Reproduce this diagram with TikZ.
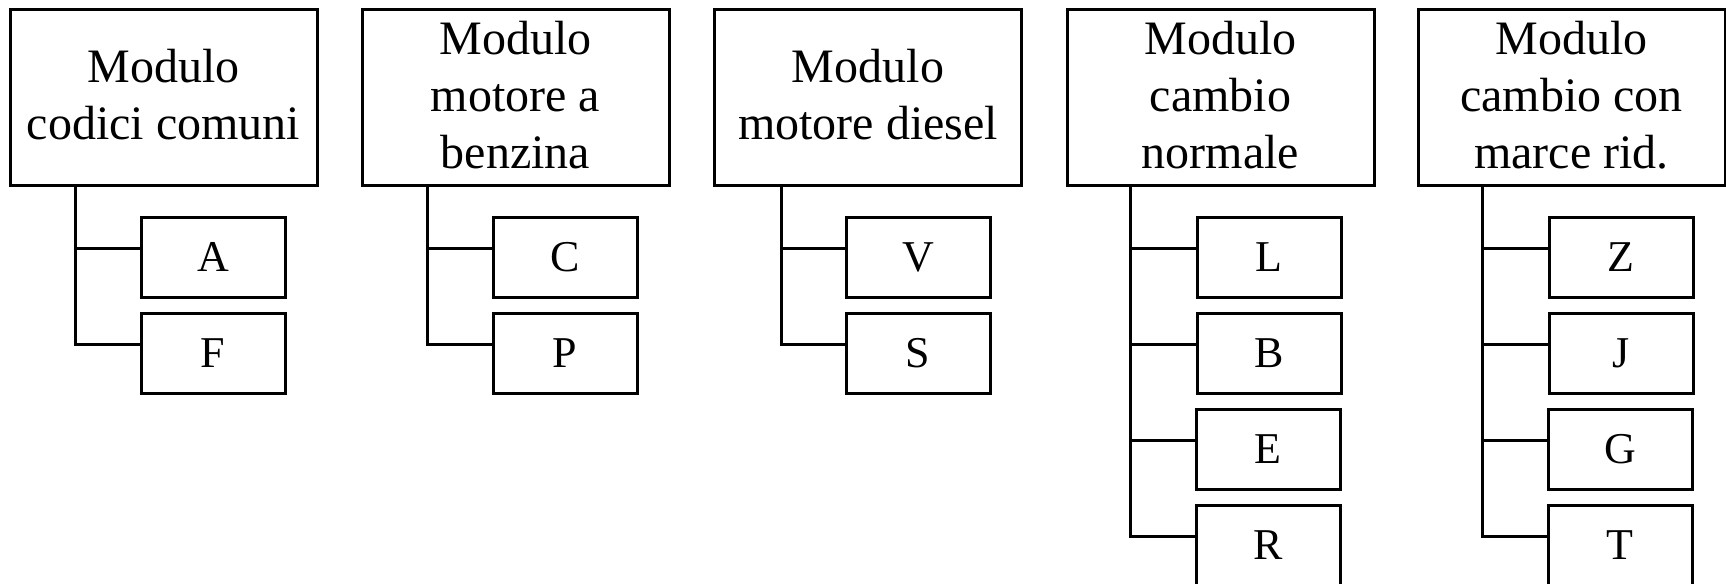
\documentclass[tikz,border=0pt]{standalone}
\usepackage{fontspec}
\setmainfont{Liberation Serif}
\usetikzlibrary{calc}
\begin{document}
\begin{tikzpicture}[x=0.5pt,y=-0.5pt,line width=1.5pt,
  modbox/.style={draw,rectangle,inner sep=0pt,minimum width=153.5pt,minimum height=88pt,align=center,text depth=2.4pt,font=\fontsize{24}{28.5}\selectfont},
  leaf/.style={draw,rectangle,inner sep=0pt,minimum width=72pt,minimum height=40pt,font=\fontsize{22}{26}\selectfont},
  conn/.style={line width=1.5pt}]
\useasboundingbox (0,0) rectangle (1726,584);
% module boxes
\node[modbox] (M1) at (163.5,97) {Modulo\\codici comuni};
\node[modbox] (M2) at (515.5,97) {Modulo\\motore a\\benzina};
\node[modbox] (M3) at (868,97) {Modulo\\motore diesel};
\node[modbox] (M4) at (1220.5,97) {Modulo\\cambio\\normale};
\node[modbox] (M5) at (1571.5,97) {Modulo\\cambio con\\marce rid.};
% leaves
\node[leaf] (A) at (213,257) {A};
\node[leaf] (F) at (213,353) {F};
\node[leaf] (C) at (565,257) {C};
\node[leaf] (P) at (565,353) {P};
\node[leaf] (V) at (918,257) {V};
\node[leaf] (S) at (918,353) {S};
\node[leaf] (L) at (1269,257) {L};
\node[leaf] (B) at (1269,353) {B};
\node[leaf] (E) at (1268,449) {E};
\node[leaf] (R) at (1268,545) {R};
\node[leaf] (Z) at (1621,257) {Z};
\node[leaf] (J) at (1621,353) {J};
\node[leaf] (G) at (1620,449) {G};
\node[leaf] (T) at (1620,545) {T};
% connector points on leaves
\foreach \k in {A,F,C,P,V,S,L,B,E,R,Z,J,G,T}
  \coordinate (\k c) at ($(\k.north west)!0.4!(\k.south west)$);
% trunks
\coordinate (t1) at ($(M1.south west)+(67,0)$);
\coordinate (t2) at ($(M2.south west)+(67,0)$);
\coordinate (t3) at ($(M3.south west)+(68,0)$);
\coordinate (t4) at ($(M4.south west)+(65,0)$);
\coordinate (t5) at ($(M5.south west)+(66,0)$);
\draw[conn] (t1) |- (Fc); \draw[conn] (Ac) -- (Ac -| t1);
\draw[conn] (t2) |- (Pc); \draw[conn] (Cc) -- (Cc -| t2);
\draw[conn] (t3) |- (Sc); \draw[conn] (Vc) -- (Vc -| t3);
\draw[conn] (t4) |- (Rc); \draw[conn] (Lc) -- (Lc -| t4); \draw[conn] (Bc) -- (Bc -| t4); \draw[conn] (Ec) -- (Ec -| t4);
\draw[conn] (t5) |- (Tc); \draw[conn] (Zc) -- (Zc -| t5); \draw[conn] (Jc) -- (Jc -| t5); \draw[conn] (Gc) -- (Gc -| t5);
\end{tikzpicture}
\end{document}
